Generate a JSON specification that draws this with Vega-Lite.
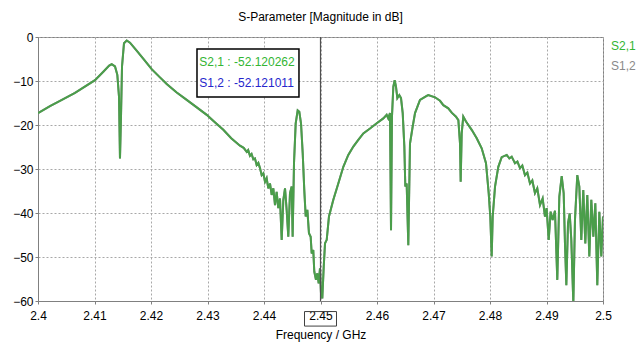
{
  "$schema": "https://vega.github.io/schema/vega-lite/v6.json",
  "width": 565,
  "height": 264,
  "autosize": {"type": "none"},
  "padding": {"left": 38, "top": 37, "right": 38, "bottom": 42},
  "background": "white",
  "config": {
    "font": "Liberation Sans",
    "view": {"stroke": "#808080", "strokeWidth": 1},
    "axis": {
      "domainColor": "#808080",
      "tickColor": "#808080",
      "gridColor": "#a8a8a8",
      "gridDash": [2, 2],
      "gridWidth": 1,
      "labelFont": "Liberation Sans",
      "labelFontSize": 12,
      "labelColor": "#000000",
      "titleFont": "Liberation Sans",
      "titleFontSize": 12,
      "titleFontWeight": "normal",
      "titleColor": "#000000",
      "tickSize": 3,
      "labelFlush": false,
      "labelOverlap": false
    }
  },
  "title": {"text": "S-Parameter [Magnitude in dB]", "fontSize": 12, "fontWeight": "normal", "color": "#000000", "font": "Liberation Sans", "offset": 7},
  "data": {"values": [
    {"f":2.40000,"s21":-17.3,"s12":-17.3},
    {"f":2.40212,"s21":-15.7,"s12":-15.7},
    {"f":2.40389,"s21":-14.5,"s12":-14.5},
    {"f":2.40655,"s21":-12.7,"s12":-12.7},
    {"f":2.41009,"s21":-9.8,"s12":-9.8},
    {"f":2.41156,"s21":-7.9,"s12":-7.9},
    {"f":2.41260,"s21":-6.5,"s12":-6.5},
    {"f":2.41304,"s21":-6.2,"s12":-6.2},
    {"f":2.41363,"s21":-6.7,"s12":-6.7},
    {"f":2.41404,"s21":-8.6,"s12":-8.6},
    {"f":2.41434,"s21":-13.6,"s12":-13.6},
    {"f":2.41451,"s21":-27.6,"s12":-27.6},
    {"f":2.41469,"s21":-18.1,"s12":-18.1},
    {"f":2.41487,"s21":-6.7,"s12":-6.7},
    {"f":2.41522,"s21":-1.4,"s12":-1.4},
    {"f":2.41570,"s21":-0.8,"s12":-0.8},
    {"f":2.41628,"s21":-1.3,"s12":-1.3},
    {"f":2.41746,"s21":-3.1,"s12":-3.1},
    {"f":2.41880,"s21":-5.2,"s12":-5.2},
    {"f":2.42012,"s21":-7.3,"s12":-7.3},
    {"f":2.42145,"s21":-9.0,"s12":-9.0},
    {"f":2.42278,"s21":-10.7,"s12":-10.7},
    {"f":2.42455,"s21":-12.6,"s12":-12.6},
    {"f":2.42632,"s21":-14.3,"s12":-14.3},
    {"f":2.42810,"s21":-16.0,"s12":-16.0},
    {"f":2.42986,"s21":-17.7,"s12":-17.7},
    {"f":2.43130,"s21":-19.4,"s12":-19.4},
    {"f":2.43280,"s21":-21.1,"s12":-21.1},
    {"f":2.43420,"s21":-23.0,"s12":-23.0},
    {"f":2.43575,"s21":-24.7,"s12":-24.7},
    {"f":2.43640,"s21":-25.2,"s12":-25.2},
    {"f":2.43694,"s21":-26.1,"s12":-26.1},
    {"f":2.43720,"s21":-25.7,"s12":-25.7},
    {"f":2.43752,"s21":-27.0,"s12":-27.0},
    {"f":2.43780,"s21":-26.6,"s12":-26.6},
    {"f":2.43811,"s21":-27.8,"s12":-27.8},
    {"f":2.43840,"s21":-27.6,"s12":-27.6},
    {"f":2.43870,"s21":-29.1,"s12":-29.1},
    {"f":2.43900,"s21":-28.6,"s12":-28.6},
    {"f":2.43929,"s21":-29.8,"s12":-29.8},
    {"f":2.43959,"s21":-31.4,"s12":-31.4},
    {"f":2.43988,"s21":-31.0,"s12":-31.0},
    {"f":2.44018,"s21":-32.9,"s12":-32.9},
    {"f":2.44047,"s21":-32.1,"s12":-32.1},
    {"f":2.44076,"s21":-34.4,"s12":-34.4},
    {"f":2.44106,"s21":-33.3,"s12":-33.3},
    {"f":2.44136,"s21":-35.9,"s12":-35.9},
    {"f":2.44165,"s21":-34.4,"s12":-34.4},
    {"f":2.44195,"s21":-38.2,"s12":-38.2},
    {"f":2.44224,"s21":-35.2,"s12":-35.2},
    {"f":2.44253,"s21":-38.9,"s12":-38.9},
    {"f":2.44283,"s21":-36.7,"s12":-36.7},
    {"f":2.44313,"s21":-46.1,"s12":-46.1},
    {"f":2.44342,"s21":-37.0,"s12":-37.0},
    {"f":2.44372,"s21":-34.4,"s12":-34.4},
    {"f":2.44401,"s21":-39.3,"s12":-39.3},
    {"f":2.44430,"s21":-45.4,"s12":-45.4},
    {"f":2.44460,"s21":-35.5,"s12":-35.5},
    {"f":2.44490,"s21":-34.0,"s12":-34.0},
    {"f":2.44507,"s21":-45.4,"s12":-45.4},
    {"f":2.44531,"s21":-28.7,"s12":-28.7},
    {"f":2.44561,"s21":-19.6,"s12":-19.6},
    {"f":2.44596,"s21":-16.7,"s12":-16.7},
    {"f":2.44625,"s21":-17.0,"s12":-17.0},
    {"f":2.44655,"s21":-19.6,"s12":-19.6},
    {"f":2.44685,"s21":-26.4,"s12":-26.4},
    {"f":2.44713,"s21":-34.8,"s12":-34.8},
    {"f":2.44738,"s21":-40.8,"s12":-40.8},
    {"f":2.44767,"s21":-39.3,"s12":-39.3},
    {"f":2.44796,"s21":-44.6,"s12":-44.6},
    {"f":2.44826,"s21":-45.4,"s12":-45.4},
    {"f":2.44844,"s21":-49.2,"s12":-49.2},
    {"f":2.44872,"s21":-48.4,"s12":-48.4},
    {"f":2.44890,"s21":-53.3,"s12":-53.3},
    {"f":2.44920,"s21":-55.2,"s12":-55.2},
    {"f":2.44944,"s21":-53.7,"s12":-53.7},
    {"f":2.44968,"s21":-56.0,"s12":-56.0},
    {"f":2.44991,"s21":-52.6,"s12":-52.6},
    {"f":2.45009,"s21":-58.3,"s12":-58.3},
    {"f":2.45032,"s21":-59.4,"s12":-59.4},
    {"f":2.45057,"s21":-52.2,"s12":-52.2},
    {"f":2.45080,"s21":-46.9,"s12":-46.9},
    {"f":2.45110,"s21":-46.1,"s12":-46.1},
    {"f":2.45150,"s21":-40.8,"s12":-40.8},
    {"f":2.45227,"s21":-37.0,"s12":-37.0},
    {"f":2.45315,"s21":-33.3,"s12":-33.3},
    {"f":2.45404,"s21":-29.5,"s12":-29.5},
    {"f":2.45492,"s21":-26.8,"s12":-26.8},
    {"f":2.45581,"s21":-24.9,"s12":-24.9},
    {"f":2.45669,"s21":-23.4,"s12":-23.4},
    {"f":2.45758,"s21":-21.9,"s12":-21.9},
    {"f":2.45876,"s21":-20.8,"s12":-20.8},
    {"f":2.45995,"s21":-19.6,"s12":-19.6},
    {"f":2.46112,"s21":-18.5,"s12":-18.5},
    {"f":2.46171,"s21":-17.7,"s12":-17.7},
    {"f":2.46200,"s21":-18.5,"s12":-18.5},
    {"f":2.46230,"s21":-17.3,"s12":-17.3},
    {"f":2.46248,"s21":-43.9,"s12":-43.9},
    {"f":2.46265,"s21":-18.1,"s12":-18.1},
    {"f":2.46289,"s21":-11.3,"s12":-11.3},
    {"f":2.46313,"s21":-9.8,"s12":-9.8},
    {"f":2.46336,"s21":-11.3,"s12":-11.3},
    {"f":2.46360,"s21":-13.9,"s12":-13.9},
    {"f":2.46395,"s21":-13.2,"s12":-13.2},
    {"f":2.46425,"s21":-13.9,"s12":-13.9},
    {"f":2.46455,"s21":-17.3,"s12":-17.3},
    {"f":2.46484,"s21":-24.9,"s12":-24.9},
    {"f":2.46501,"s21":-34.0,"s12":-34.0},
    {"f":2.46525,"s21":-33.3,"s12":-33.3},
    {"f":2.46554,"s21":-47.3,"s12":-47.3},
    {"f":2.46584,"s21":-24.2,"s12":-24.2},
    {"f":2.46631,"s21":-20.4,"s12":-20.4},
    {"f":2.46673,"s21":-17.3,"s12":-17.3},
    {"f":2.46761,"s21":-14.3,"s12":-14.3},
    {"f":2.46880,"s21":-13.4,"s12":-13.4},
    {"f":2.46908,"s21":-13.2,"s12":-13.2},
    {"f":2.47027,"s21":-13.7,"s12":-13.7},
    {"f":2.47115,"s21":-14.5,"s12":-14.5},
    {"f":2.47174,"s21":-15.5,"s12":-15.5},
    {"f":2.47262,"s21":-16.2,"s12":-16.2},
    {"f":2.47322,"s21":-17.2,"s12":-17.2},
    {"f":2.47398,"s21":-18.1,"s12":-18.1},
    {"f":2.47440,"s21":-18.9,"s12":-18.9},
    {"f":2.47469,"s21":-24.2,"s12":-24.2},
    {"f":2.47481,"s21":-32.9,"s12":-32.9},
    {"f":2.47499,"s21":-21.9,"s12":-21.9},
    {"f":2.47527,"s21":-18.1,"s12":-18.1},
    {"f":2.47575,"s21":-19.2,"s12":-19.2},
    {"f":2.47676,"s21":-21.1,"s12":-21.1},
    {"f":2.47765,"s21":-23.0,"s12":-23.0},
    {"f":2.47853,"s21":-25.3,"s12":-25.3},
    {"f":2.47929,"s21":-28.7,"s12":-28.7},
    {"f":2.47977,"s21":-35.5,"s12":-35.5},
    {"f":2.48005,"s21":-40.8,"s12":-40.8},
    {"f":2.48030,"s21":-49.9,"s12":-49.9},
    {"f":2.48048,"s21":-40.8,"s12":-40.8},
    {"f":2.48089,"s21":-34.0,"s12":-34.0},
    {"f":2.48147,"s21":-29.5,"s12":-29.5},
    {"f":2.48207,"s21":-27.3,"s12":-27.3},
    {"f":2.48296,"s21":-26.8,"s12":-26.8},
    {"f":2.48342,"s21":-27.6,"s12":-27.6},
    {"f":2.48384,"s21":-27.2,"s12":-27.2},
    {"f":2.48442,"s21":-28.7,"s12":-28.7},
    {"f":2.48485,"s21":-28.3,"s12":-28.3},
    {"f":2.48531,"s21":-29.8,"s12":-29.8},
    {"f":2.48572,"s21":-29.2,"s12":-29.2},
    {"f":2.48619,"s21":-31.4,"s12":-31.4},
    {"f":2.48661,"s21":-30.8,"s12":-30.8},
    {"f":2.48708,"s21":-33.3,"s12":-33.3},
    {"f":2.48749,"s21":-32.6,"s12":-32.6},
    {"f":2.48796,"s21":-35.5,"s12":-35.5},
    {"f":2.48837,"s21":-34.4,"s12":-34.4},
    {"f":2.48885,"s21":-38.2,"s12":-38.2},
    {"f":2.48932,"s21":-36.7,"s12":-36.7},
    {"f":2.48973,"s21":-40.8,"s12":-40.8},
    {"f":2.49002,"s21":-38.9,"s12":-38.9},
    {"f":2.49039,"s21":-46.1,"s12":-46.1},
    {"f":2.49073,"s21":-39.7,"s12":-39.7},
    {"f":2.49109,"s21":-41.6,"s12":-41.6},
    {"f":2.49150,"s21":-39.5,"s12":-39.5},
    {"f":2.49191,"s21":-55.2,"s12":-55.2},
    {"f":2.49227,"s21":-36.3,"s12":-36.3},
    {"f":2.49269,"s21":-31.6,"s12":-31.6},
    {"f":2.49304,"s21":-35.5,"s12":-35.5},
    {"f":2.49327,"s21":-46.9,"s12":-46.9},
    {"f":2.49351,"s21":-56.4,"s12":-56.4},
    {"f":2.49381,"s21":-42.3,"s12":-42.3},
    {"f":2.49411,"s21":-40.1,"s12":-40.1},
    {"f":2.49439,"s21":-46.1,"s12":-46.1},
    {"f":2.49475,"s21":-60.5,"s12":-60.5},
    {"f":2.49504,"s21":-41.6,"s12":-41.6},
    {"f":2.49545,"s21":-31.4,"s12":-31.4},
    {"f":2.49581,"s21":-34.0,"s12":-34.0},
    {"f":2.49616,"s21":-46.1,"s12":-46.1},
    {"f":2.49651,"s21":-34.8,"s12":-34.8},
    {"f":2.49687,"s21":-46.9,"s12":-46.9},
    {"f":2.49722,"s21":-35.9,"s12":-35.9},
    {"f":2.49758,"s21":-49.9,"s12":-49.9},
    {"f":2.49793,"s21":-37.0,"s12":-37.0},
    {"f":2.49829,"s21":-45.4,"s12":-45.4},
    {"f":2.49864,"s21":-37.8,"s12":-37.8},
    {"f":2.49899,"s21":-56.4,"s12":-56.4},
    {"f":2.49935,"s21":-39.7,"s12":-39.7},
    {"f":2.49970,"s21":-49.9,"s12":-49.9},
    {"f":2.50000,"s21":-40.8,"s12":-40.8}
  ]},
  "layer": [
    {
      "mark": {"type": "line", "strokeWidth": 2, "clip": true},
      "encoding": {
        "x": {"field": "f", "type": "quantitative",
          "scale": {"domain": [2.4, 2.5], "nice": false, "zero": false},
          "axis": {"values": [2.4, 2.41, 2.42, 2.43, 2.44, 2.45, 2.46, 2.47, 2.48, 2.49, 2.5], "format": ".2~f", "title": "Frequency / GHz", "labelPadding": 6, "titlePadding": 8}},
        "y": {"field": "s12", "type": "quantitative",
          "scale": {"domain": [-60, 0], "nice": false},
          "axis": {"values": [-60, -50, -40, -30, -20, -10, 0], "format": "d", "title": null, "labelPadding": 2}},
        "color": {"datum": "S1,2", "type": "nominal",
          "scale": {"domain": ["S2,1", "S1,2"], "range": ["#4a9e4a", "#8c8c8c"]},
          "legend": {"orient": "none", "legendX": 561, "legendY": 3, "title": null, "padding": 0,
            "symbolSize": 0, "symbolOpacity": 0, "symbolStrokeWidth": 0, "labelOffset": 0,
            "labelFont": "Liberation Sans", "labelFontSize": 12, "rowPadding": 8,
            "labelColor": {"expr": "datum.value == 'S2,1' ? '#33b533' : '#8a8a8a'"}}}
      }
    },
    {
      "mark": {"type": "line", "strokeWidth": 2, "clip": true},
      "encoding": {
        "x": {"field": "f", "type": "quantitative"},
        "y": {"field": "s21", "type": "quantitative"},
        "color": {"datum": "S2,1", "type": "nominal"}
      }
    },
    {
      "data": {"values": [{}]},
      "mark": {"type": "rule", "color": "#505050", "strokeWidth": 1.2},
      "encoding": {"x": {"datum": 2.45, "type": "quantitative"}}
    },
    {
      "data": {"values": [{}]},
      "mark": {"type": "rect", "fill": "white", "stroke": "black", "strokeWidth": 1.5},
      "encoding": {
        "x": {"datum": 2.42814, "type": "quantitative"},
        "x2": {"datum": 2.44619},
        "y": {"datum": -2.73, "type": "quantitative"},
        "y2": {"datum": -13.64}
      }
    },
    {
      "data": {"values": [{}]},
      "mark": {"type": "text", "align": "left", "baseline": "middle", "fontSize": 12, "font": "Liberation Sans", "color": "#33b533", "text": "S2,1 : -52.120262"},
      "encoding": {
        "x": {"datum": 2.42855, "type": "quantitative"},
        "y": {"datum": -5.6, "type": "quantitative"}
      }
    },
    {
      "data": {"values": [{}]},
      "mark": {"type": "text", "align": "left", "baseline": "middle", "fontSize": 12, "font": "Liberation Sans", "color": "#2626cc", "text": "S1,2 : -52.121011"},
      "encoding": {
        "x": {"datum": 2.42855, "type": "quantitative"},
        "y": {"datum": -10.4, "type": "quantitative"}
      }
    },
    {
      "data": {"values": [{}]},
      "mark": {"type": "rect", "fill": "white", "fillOpacity": 0, "stroke": "#404040", "strokeWidth": 1},
      "encoding": {
        "x": {"datum": 2.44717, "type": "quantitative"},
        "x2": {"datum": 2.45283},
        "y": {"datum": -62.4, "type": "quantitative"},
        "y2": {"datum": -65.7}
      }
    }
  ]
}
